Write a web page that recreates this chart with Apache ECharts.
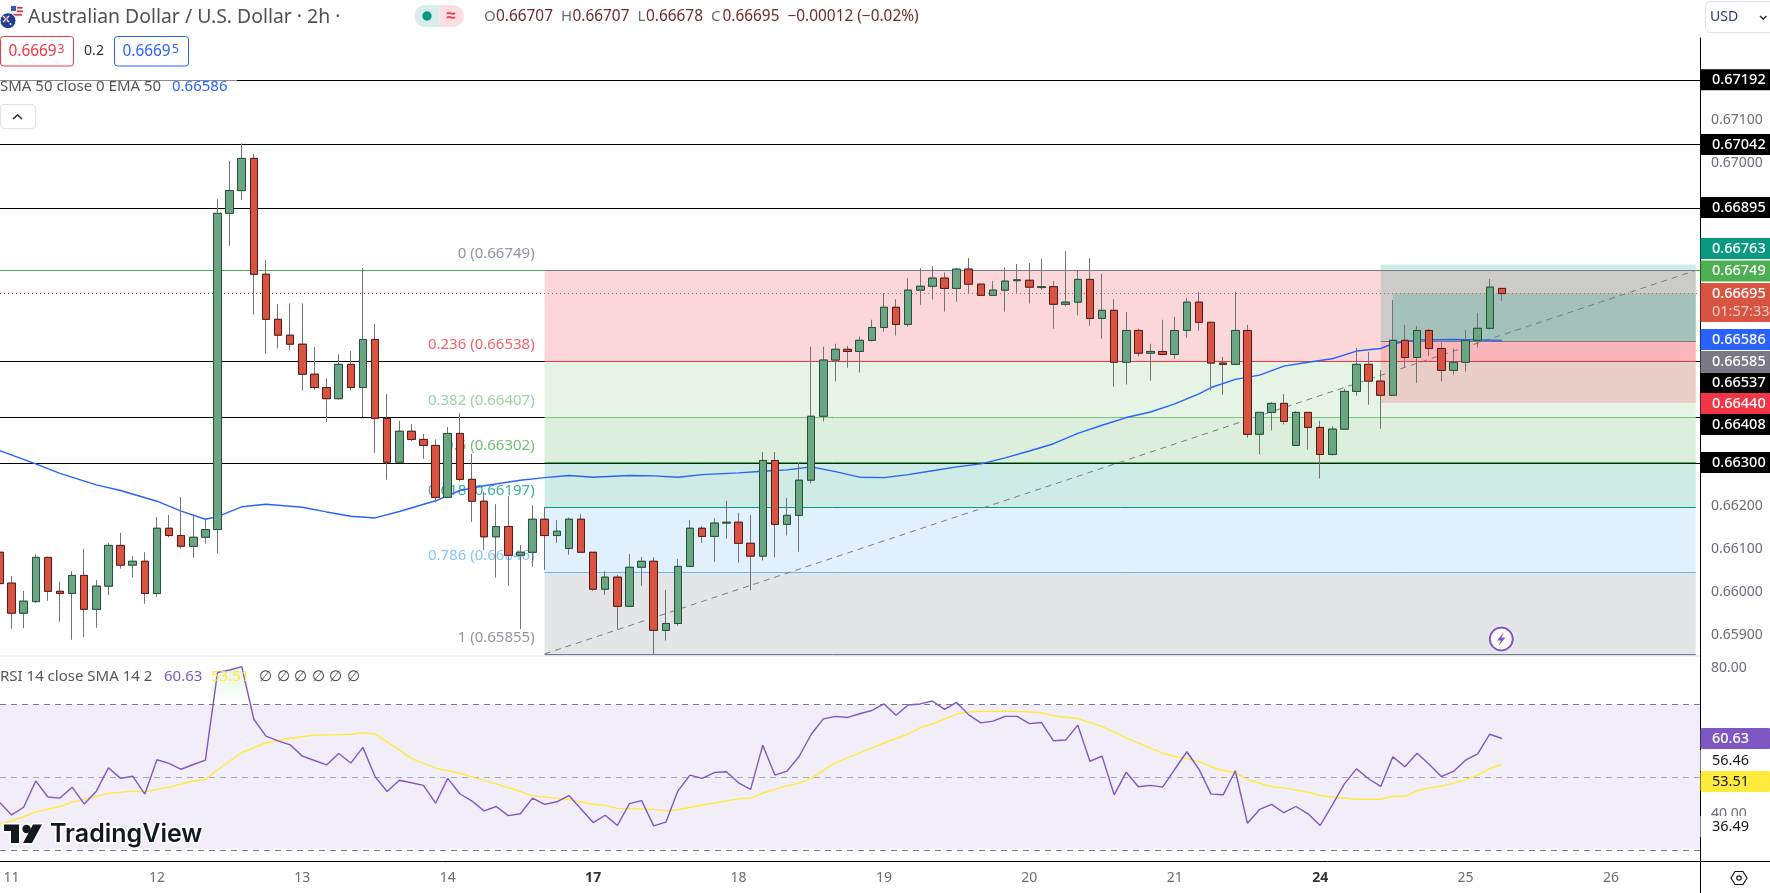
<!DOCTYPE html>
<html><head><meta charset="utf-8">
<style>html,body{margin:0;padding:0;background:#fff}#c{width:1770px;height:893px}</style>
<script src="https://cdn.jsdelivr.net/npm/echarts@6/dist/echarts.min.js"></script>
</head><body><div id="c"></div>
<script>
// Prices in units of 0.00001
const opens=[66092,66020,65950,65977,66080,66001,65996,66038,65959,66013,
66108,66062,66071,65996,66148,66131,66106,66127,66145,66882,
66935,67010,66740,66635,66598,66577,66507,66476,66450,66530,
66476,66588,66404,66302,66374,66355,66341,66220,66369,66262,
66211,66128,66152,66085,66092,66169,66131,66101,66169,66092,
66006,66034,65966,66057,66071,65910,65926,66059,66148,66129,
66160,66162,66113,66083,66306,66157,66178,66260,66409,66540,
66565,66560,66586,66616,66663,66623,66703,66712,66731,66707,
66752,66717,66691,66703,66725,66726,66709,66711,66670,66675,
66728,66637,66656,66535,66609,66556,66560,66553,66609,66675,
66628,66533,66530,66609,66367,66418,66439,66341,66418,66383,
66320,66379,66467,66530,66491,66458,66586,66546,66609,66567,
66516,66535,66586,66614,66707];
const closes=[66019,65950,65978,66080,66001,65996,66038,65959,66013,66108,
66062,66071,65996,66148,66131,66106,66127,66145,66882,66935,
67010,66740,66635,66598,66577,66507,66476,66450,66530,66476,
66588,66404,66302,66374,66355,66341,66220,66369,66262,66211,
66128,66152,66085,66092,66169,66131,66141,66169,66092,66006,
66034,65966,66057,66071,65910,65926,66059,66148,66129,66160,
66162,66113,66083,66306,66157,66178,66260,66409,66540,66565,
66560,66586,66616,66663,66623,66703,66712,66731,66707,66752,
66717,66691,66703,66724,66727,66710,66711,66670,66675,66728,
66637,66656,66535,66609,66556,66560,66553,66609,66675,66628,
66533,66530,66609,66367,66418,66439,66397,66418,66383,66320,
66379,66467,66530,66491,66458,66586,66546,66609,66567,66516,
66535,66586,66614,66710,66695];
const lows=[66005,65914,65915,65974,65979,65930,65888,65895,65916,65992,
66054,66033,65972,65988,66127,66100,66079,66112,66089,66806,
66913,66646,66555,66567,66563,66469,66471,66396,66448,66469,
66406,66324,66261,66302,66351,66310,66208,66220,66257,66163,
66097,66033,66014,65913,66058,66051,66114,66086,66092,66002,
65993,65912,65966,66014,65855,65886,65921,66059,66114,66070,
66124,66068,66003,66073,66080,66131,66093,66252,66397,66490,
66522,66511,66583,66606,66597,66618,66669,66681,66653,66676,
66696,66691,66691,66653,66697,66672,66704,66613,66665,66644,
66620,66590,66478,66483,66548,66492,66551,66543,66592,66609,
66470,66459,66530,66359,66320,66376,66390,66341,66331,66264,
66317,66379,66457,66436,66380,66458,66522,66487,66550,66490,
66506,66513,66569,66611,66678];
const highs=[66110,66037,66002,66087,66082,66023,66048,66100,66027,66114,
66137,66083,66092,66174,66179,66221,66181,66170,66915,67004,
67045,67020,66773,66671,66672,66672,66570,66497,66554,66561,
66755,66624,66461,66398,66391,66368,66355,66384,66416,66321,
66233,66204,66223,66109,66202,66198,66167,66173,66181,66092,
66048,66039,66088,66081,66080,66004,66076,66167,66153,66171,
66212,66184,66179,66326,66326,66219,66300,66571,66571,66578,
66573,66595,66634,66696,66682,66731,66754,66759,66744,66755,
66778,66717,66724,66756,66764,66766,66776,66724,66794,66748,
66778,66741,66682,66652,66614,66578,66634,66641,66685,66699,
66628,66547,66699,66622,66418,66442,66461,66421,66418,66398,
66386,66473,66568,66559,66517,66680,66622,66620,66613,66581,
66567,66610,66650,66729,66707];

const smaIndex=[0,3,5,8,10,13,15,17,18,20,22,25,27,29,31,33,36,38,40,43,45,47,49,52,54,56,58,61,63,65,67,69,71,73,75,77,79,81,83,85,87,89,91,93,95,97,99,100,102,104,106,108,110,112,114,115,117,120,124];
const smaValues=[66329,66298,66276,66249,66236,66211,66188,66169,66175,66198,66204,66197,66186,66176,66172,66187,66212,66236,66247,66260,66266,66271,66267,66271,66270,66267,66273,66277,66281,66284,66291,66280,66267,66266,66273,66282,66291,66298,66312,66328,66345,66369,66388,66406,66419,66438,66461,66476,66495,66505,66526,66535,66543,66561,66567,66578,66587,66588,66586];

const rsiValues=[43.2,39.7,41.8,49.0,44.6,44.3,47.3,42.7,46.2,52.6,49.7,50.3,45.4,54.8,53.8,52.2,53.5,54.7,78.7,79.4,80.3,65.9,61.3,60.0,58.9,55.8,54.6,53.4,56.5,53.9,58.2,50.2,46.1,49.2,48.5,47.8,42.9,49.7,45.5,43.5,40.8,42.0,39.5,40.0,44.3,42.6,43.3,45.0,41.3,37.6,39.6,36.8,42.8,43.6,36.7,37.7,46.3,50.6,49.7,51.3,51.5,48.5,46.7,58.8,50.6,51.7,55.7,61.8,66.0,66.7,66.4,67.4,68.3,70.1,67.0,69.8,70.1,70.9,68.6,70.5,67.1,64.9,65.4,66.7,66.7,64.7,65.0,60.0,60.2,64.3,54.4,55.8,45.2,51.4,47.4,47.8,47.3,52.2,57.0,52.2,45.4,45.2,51.8,37.4,41.2,42.6,40.3,42.0,40.0,36.8,42.4,48.2,52.3,49.6,47.5,55.6,52.9,56.6,53.6,50.2,51.6,54.7,56.4,61.8,60.63];
const rsiSmaIndex=[0,1,2,3,5,6,8,9,11,12,14,16,17,18,20,22,24,26,28,29,30,31,33,34,36,38,40,41,43,44,46,47,49,50,51,54,55,56,58,61,62,63,65,66,67,69,71,73,75,76,77,79,80,81,84,86,87,89,91,93,96,97,98,99,100,101,102,103,105,106,108,109,110,112,114,115,116,117,118,119,120,121,122,123,124];
const rsiSmaValues=[37.1,38.1,39.2,40.5,42.0,43.2,44.7,45.6,46.2,46.0,47.3,49.0,49.4,52.0,56.8,59.4,60.7,61.6,61.7,61.8,62.2,61.9,57.5,55.2,52.5,51.1,49.1,48.2,46.1,44.9,44.3,43.9,42.6,42.3,41.5,41.2,40.8,41.1,42.4,44.1,44.3,45.7,47.7,48.4,49.7,54.0,56.7,59.4,61.8,63.6,64.6,67.3,67.9,68.1,68.1,67.7,66.8,66.1,63.9,60.8,56.6,55.7,55.1,54.3,52.9,51.8,51.3,49.4,47.4,47.1,45.9,45.0,44.6,44.0,44.0,44.8,44.8,46.3,47.1,47.6,48.4,49.3,50.6,52.4,53.51];

const dateLabels=['11','12','13','14','17','18','19','20','21','24','25','26'];
const dateIndex=[1,13,25,37,49,61,73,85,97,109,121,133];
const boldDates=['17','24'];
const priceTicks=[0.659,0.66,0.661,0.662,0.67,0.671];
const rsiTicks=[40,80];

const fibRatios=['0','0.236','0.382','0.5','0.618','0.786','1'];
const fibPrices=[0.66749,0.66538,0.66407,0.66302,0.66197,0.66046,0.65855];
const fibLabelPrices=['0.66749','0.66538','0.66407','0.66302','0.66197','0.66046','0.65855'];
const fibLineColors=['#787b86','#f23645','#81c784','#4caf50','#089981','#64b5f6','#787b86'];
const fibFillColors=['rgba(242,54,69,.2)','rgba(129,199,132,.2)','rgba(76,175,80,.2)','rgba(8,153,129,.2)','rgba(100,181,246,.2)','rgba(120,123,134,.2)'];
const fibStartIndex=45, fibEndIndex=140;
const keyLevels=[0.67192,0.67042,0.66895,0.66538,0.66407,0.66300];
const positionTop=0.66763, positionEntry=0.66585, positionStop=0.66440, positionLast=0.66695;
const positionStart=114, positionInner=115;
const lastPrice=0.66695, rsiLevels=[70,50,30];

const PX=1e-5, xMin=0.0495, xMax=140.35;
const yMin=0.658502, yMax=0.672907, rsiMin=27.07, rsiMax=83.23;

const wicks=opens.map((o,i)=>[i,o*PX,closes[i]*PX,lows[i]*PX,highs[i]*PX]);
const bodies=opens.map((o,i)=>[i,o*PX,closes[i]*PX,Math.min(o,closes[i])*PX,Math.max(o,closes[i])*PX]);
const hFont='"Noto Sans",sans-serif';

function hostLine(o){return Object.assign({type:'scatter',data:[],xAxisIndex:0,yAxisIndex:0,silent:true},o);}
function fullLine(v,style){return [{coord:[xMin,v],lineStyle:style},{coord:[xMax,v]}];}

const series=[
 hostLine({z:1,markLine:{z:1,silent:true,symbol:['none','none'],label:{show:false},animation:false,
   data:keyLevels.map(v=>fullLine(v,{color:'#000',width:1,type:'solid'})).concat([fullLine(fibPrices[0],{color:'#4caf50',width:1,type:'solid'})])}}),
 hostLine({z:2,markArea:{z:2,silent:true,animation:false,label:{show:false},
   data:fibFillColors.map((c,i)=>[{xAxis:fibStartIndex,yAxis:fibPrices[i],itemStyle:{color:c}},{xAxis:fibEndIndex,yAxis:fibPrices[i+1]}])
     .concat([[{xAxis:fibStartIndex,yAxis:fibPrices[6],itemStyle:{color:'rgba(41,98,255,.2)'}},{xAxis:fibEndIndex,yAxis:yMin}]])}}),
 hostLine({z:3,markArea:{z:3,silent:true,animation:false,label:{show:false},data:[
   [{xAxis:positionStart,yAxis:positionTop,itemStyle:{color:'rgba(8,153,129,.2)'}},{xAxis:fibEndIndex,yAxis:positionEntry}],
   [{xAxis:positionStart,yAxis:positionEntry,itemStyle:{color:'rgba(242,54,69,.2)'}},{xAxis:fibEndIndex,yAxis:positionStop}],
   [{xAxis:positionInner,yAxis:positionLast,itemStyle:{color:'rgba(8,153,129,.2)'}},{xAxis:fibEndIndex,yAxis:positionEntry}]
 ]}}),
 hostLine({z:4,markLine:{z:4,silent:true,symbol:['none','none'],label:{show:false},animation:false,
   data:fibPrices.map((v,i)=>[{coord:[fibStartIndex,v],lineStyle:{color:fibLineColors[i],width:1,type:'solid'}},{coord:[fibEndIndex,v]}])
     .concat([[{coord:[positionStart,positionEntry],lineStyle:{color:'#787b86',width:1,type:'solid'}},{coord:[fibEndIndex,positionEntry]}],
       [{coord:[fibStartIndex,fibPrices[6]],lineStyle:{color:'#787b86',width:1,type:[6,5]}},{coord:[fibEndIndex,fibPrices[0]]}]])}}),
 hostLine({z:5,markLine:{z:5,silent:true,symbol:['none','none'],label:{show:false},animation:false,
   data:[fullLine(lastPrice,{color:'#d75442',width:1,type:[1,3]})]}}),
 {type:'scatter',z:2,silent:true,symbolSize:0,xAxisIndex:0,yAxisIndex:0,
   data:fibPrices.map((v,i)=>({value:[fibStartIndex,v],label:{color:fibLineColors[i],
     formatter:fibRatios[i]+' ('+fibLabelPrices[i]+')'}})),
   label:{show:true,position:'left',align:'right',verticalAlign:'middle',distance:0,offset:[-10,-16.5],fontFamily:hFont,fontSize:15}},
 {type:'line',z:6,xAxisIndex:0,yAxisIndex:0,silent:true,symbol:'none',smooth:false,
   data:smaIndex.map((x,i)=>[x,smaValues[i]*PX]),lineStyle:{color:'#2962ff',width:1.4}},
 {type:'candlestick',z:10,xAxisIndex:0,yAxisIndex:0,silent:true,barWidth:8,data:wicks,
   itemStyle:{color:'#737375',color0:'#737375',borderColor:'#737375',borderColor0:'#737375',borderWidth:1}},
 {type:'candlestick',z:11,xAxisIndex:0,yAxisIndex:0,silent:true,barWidth:8,data:bodies,
   itemStyle:{color:'#6ba583',color0:'#d75442',borderColor:'#225437',borderColor0:'#5b1a13',borderColorDoji:'#225437',borderWidth:1}},
 {type:'line',z:2,xAxisIndex:1,yAxisIndex:1,silent:true,symbol:'none',lineStyle:{width:0},
   data:rsiValues.map((v,i)=>[i,Math.max(v,rsiLevels[0])]),
   areaStyle:{origin:rsiLevels[0],opacity:1,color:{type:'linear',x:0,y:0,x2:0,y2:1,colorStops:[{offset:0,color:'rgba(76,175,80,.14)'},{offset:1,color:'rgba(76,175,80,0)'}]}},
   markArea:{z:1,silent:true,animation:false,label:{show:false},data:[[{xAxis:xMin,yAxis:rsiLevels[0],itemStyle:{color:'rgba(126,87,194,.1)'}},{xAxis:xMax,yAxis:30.3}]]},
   markLine:{z:2,silent:true,symbol:['none','none'],label:{show:false},animation:false,
     data:[{yAxis:rsiLevels[0],lineStyle:{color:'#787b86',width:1,type:[6,5]}},{yAxis:rsiLevels[1],lineStyle:{color:'rgba(120,123,134,.6)',width:1,type:[6,5]}},{yAxis:rsiLevels[2],lineStyle:{color:'#787b86',width:1,type:[6,5]}}]}},
 {type:'line',z:4,xAxisIndex:1,yAxisIndex:1,silent:true,symbol:'none',
   data:rsiSmaIndex.map((x,i)=>[x,rsiSmaValues[i]]),lineStyle:{color:'#ffeb3b',width:1.4}},
 {type:'line',z:5,xAxisIndex:1,yAxisIndex:1,silent:true,symbol:'none',
   data:rsiValues.map((v,i)=>[i,v]),lineStyle:{color:'#7e57c2',width:1.4}}
];

// ---- overlay widgets (header, price tags)
const G=[];
function T(x,y,s,o){o=o||{};G.push({type:'text',z:o.z||200,x:x,y:y,silent:true,style:{text:s,fill:o.c||'#4a4a4a',font:(o.w||'normal')+' '+(o.s||14)+'px '+(o.f||hFont),textAlign:o.a||'left',textVerticalAlign:'middle',stroke:o.st,lineWidth:o.lw||0}});}
function R(x,y,w,h,o){o=o||{};G.push({type:'rect',z:o.z||190,silent:true,shape:{x:x,y:y,width:w,height:h,r:o.r||0},style:{fill:o.f==null?'#fff':o.f,stroke:o.s||null,lineWidth:o.lw||0}});}
function C(x,y,r,o){G.push({type:'circle',z:o.z||195,silent:true,shape:{cx:x,cy:y,r:r},style:{fill:o.f||'none',stroke:o.s||null,lineWidth:o.lw||0}});}
function P(pts,f,o){o=o||{};G.push({type:'polygon',z:o.z||195,silent:true,shape:{points:pts},style:{fill:f,stroke:o.s||null,lineWidth:o.lw||0}});}
function L(x1,y1,x2,y2,c,w,o){o=o||{};G.push({type:'line',z:o.z||190,silent:true,shape:{x1,y1,x2,y2},style:{stroke:c,lineWidth:w}});}

const titleText='Australian Dollar / U.S. Dollar · 2h ·';
const ohlcLetters=['O','H','L','C'], ohlcValues=['0.66707','0.66707','0.66678','0.66695'], ohlcX=[484,561,637.5,711], ohlcValueX=[496,572.5,646,722.5];
ohlcLetters.forEach((l,i)=>{T(ohlcX[i],17,l,{c:'#6a6d78',s:15});T(ohlcValueX[i],17,ohlcValues[i],{c:'#6b2d26',s:15.4});});
T(787.5,17,'−0.00012 (−0.02%)',{c:'#6b2d26',s:15.4});
T(28,17.5,titleText,{s:19.4,c:'#505050'});
// flags
C(16,11.7,7,{f:'#eee'});R(11,6,5,5,{f:'#3c5aa6',z:196});R(17,7,5.5,1.6,{f:'#d8323c',z:196});R(17,10.5,6,1.6,{f:'#d8323c',z:196});R(11,14,11,1.6,{f:'#d8323c',z:196});
C(8,20.7,8,{f:'#1c3f94',s:'#fff',lw:1,z:197});L(3,16,9,22,'#fff',1.2,{z:198});L(9,16,3,22,'#fff',1.2,{z:198});L(6,15,6,23,'#d8323c',1,{z:198});C(10.5,24,1,{f:'#fff',z:198});
// market status pill
R(414.5,5,25,22,{f:'#d9ede9',r:[11,0,0,11]});R(439.5,5,24.5,22,{f:'#fbdde2',r:[0,11,11,0]});
C(427,16,4.7,{f:'#089981'});T(451,16,'≈',{c:'#f23645',s:17,a:'center',w:'bold'});
// bid ask
R(0.5,36.5,73,29.5,{f:'#fff',s:'#f23645',lw:1,r:3});R(114.5,36.5,74,29.5,{f:'#fff',s:'#2962ff',lw:1,r:3});
T(8.5,51.5,'0.6669',{c:'#f23645',s:15.4});T(57.5,50,'3',{c:'#f23645',s:12});
T(122.5,51.5,'0.6669',{c:'#2962ff',s:15.4});T(172,50,'5',{c:'#2962ff',s:12});
T(94,51,'0.2',{c:'#333',s:14,a:'center'});
// indicator legend
R(0,79,237,16,{f:'rgba(255,255,255,.55)',z:150});
T(0,87,'SMA 50 close 0 EMA 50',{s:15,c:'#555'});T(172,87,'0.66586',{s:15,c:'#2962ff'});
R(0.5,104.5,35,24,{f:'#fff',s:'#e0e3eb',lw:1.2,r:4});
G.push({type:'polyline',z:200,silent:true,shape:{points:[[13,119],[17.5,115],[22,119]]},style:{stroke:'#222',lineWidth:1.4,fill:'none'}});
// currency
R(1705.5,1.5,70,31,{f:'#fff',s:'#e0e3eb',lw:1,r:5});T(1710,17.5,'USD',{s:14,c:'#2a3a6a'});
G.push({type:'polyline',z:200,silent:true,shape:{points:[[1760,16],[1763.3,19],[1766.5,16]]},style:{stroke:'#222',lineWidth:1.3,fill:'none'}});
// right tags
const tagRows=[['0.67192',69.3,'#000'],['0.67042',134,'#000'],['0.66895',197,'#000'],['0.66763',238,'#089981'],['0.66749',260.5,'#4caf50'],
['0.66586',329,'#2962ff'],['0.66585',351,'#787b86'],['0.66537',372.5,'#000'],['0.66440',393,'#f23645'],['0.66408',414,'#000'],['0.66300',452,'#000']];
tagRows.forEach(r=>{R(1700.5,r[1],70,21,{f:r[2]});T(1712,r[1]+10.5,r[0],{c:'#fff',s:14.5,w:'500'});});
R(1700.5,283,70,39,{f:'#d75442'});T(1712,293.5,'0.66695',{c:'#fff',s:14.5,w:'500'});T(1712,311.5,'01:57:33',{c:'#f7cfc8',s:14.5});
R(1700.5,728,70,21,{f:'#7e57c2',r:2});T(1712,738.5,'60.63',{c:'#fff',s:14.5,w:'500'});
R(1700.5,750,70,21,{f:'#fff'});T(1712,761,'56.46',{c:'#131722',s:14.5});
R(1700.5,771,70,21,{f:'#ffeb3b',r:2});T(1712,781.5,'53.51',{c:'#131722',s:14.5});
R(1700.5,816,70,21,{f:'#fff'});T(1712,827,'36.49',{c:'#131722',s:14.5});
// RSI legend
T(0,677,'RSI 14 close SMA 14 2',{s:15,c:'#555'});T(164,677,'60.63',{s:15,c:'#7e57c2'});T(211,677,'53.51',{s:15,c:'#ffeb3b'});
['∅','∅','∅','∅','∅','∅'].forEach((s,i)=>T(259+i*17.6,677,s,{s:15,c:'#444'}));
// frame
L(0,861.5,1770,861.5,'#000',1);L(1700.5,861,1700.5,893,'#000',1);L(0,656,1700,656,'#e0e3eb',1.2,{z:8});
// settings
P([[1731,878],[1735,871.5],[1743,871.5],[1747,878],[1743,884.5],[1735,884.5]],'#fff',{s:'#131722',lw:1.2});C(1739,878,2.2,{f:'#fff',s:'#131722',lw:1.2,z:196});
// logo
const logoOpt={s:'#fff',lw:3,z:180};
P([[4,824.5],[19,824.5],[19,843],[11,843],[11,831],[4,831]],'#131a1f',logoOpt);
C(26.5,829,4.2,{f:'#131a1f',s:'#fff',lw:3,z:180});
P([[33,824.5],[42,824.5],[32,843],[23,843]],'#131a1f',logoOpt);
P([[4,824.5],[19,824.5],[19,843],[11,843],[11,831],[4,831]],'#131a1f',{z:181});C(26.5,829,4.2,{f:'#131a1f',z:181});P([[33,824.5],[42,824.5],[32,843],[23,843]],'#131a1f',{z:181});
T(50,834,'TradingView',{s:25,w:'600',c:'#131a1f',f:'Inter,sans-serif',st:'#fff',lw:3,z:182});
// lightning badge
C(1501.3,639,13,{f:'#fff',z:60});C(1501.3,639,11.5,{f:'#fff',s:'#7e57c2',lw:2,z:61});
P([[1504,632],[1497,640.5],[1501,640.5],[1498.5,646],[1505.5,637.5],[1501.5,637.5]],'#7e57c2',{z:62});

const option={
 animation:false,backgroundColor:'#fff',
 grid:[{left:0,top:38,width:1700,height:618},{left:0,top:656,width:1700,height:205}],
 xAxis:[
  {type:'value',gridIndex:0,min:xMin,max:xMax,show:false,splitLine:{show:false}},
  {type:'value',gridIndex:1,min:xMin,max:xMax,splitLine:{show:false},axisLine:{show:false},axisTick:{show:false},
   axisLabel:{customValues:dateIndex,margin:10,fontFamily:hFont,fontSize:14,color:'#6a6d78',hideOverlap:false,
     formatter:v=>{const s=dateLabels[dateIndex.indexOf(v)];return boldDates.includes(s)?'{b|'+s+'}':s;},
     rich:{b:{fontFamily:hFont,fontSize:14,fontWeight:'bold',color:'#333'}}}}
 ],
 yAxis:[
  {type:'value',gridIndex:0,position:'right',min:yMin,max:yMax,splitLine:{show:false},axisTick:{show:false},
   axisLine:{show:true,lineStyle:{color:'#000',width:1}},
   axisLabel:{customValues:priceTicks,margin:11,fontFamily:hFont,fontSize:14,color:'#6a6d78',formatter:v=>v.toFixed(5)}},
  {type:'value',gridIndex:1,position:'right',min:rsiMin,max:rsiMax,splitLine:{show:false},axisTick:{show:false},
   axisLine:{show:true,lineStyle:{color:'#000',width:1}},
   axisLabel:{customValues:rsiTicks,margin:11,fontFamily:hFont,fontSize:14,color:'#6a6d78',formatter:v=>v.toFixed(2)}}
 ],
 series:series,
 graphic:{elements:G}
};
const chart=echarts.init(document.getElementById('c'),null,{renderer:'canvas'});
chart.setOption(option);
</script></body></html>
